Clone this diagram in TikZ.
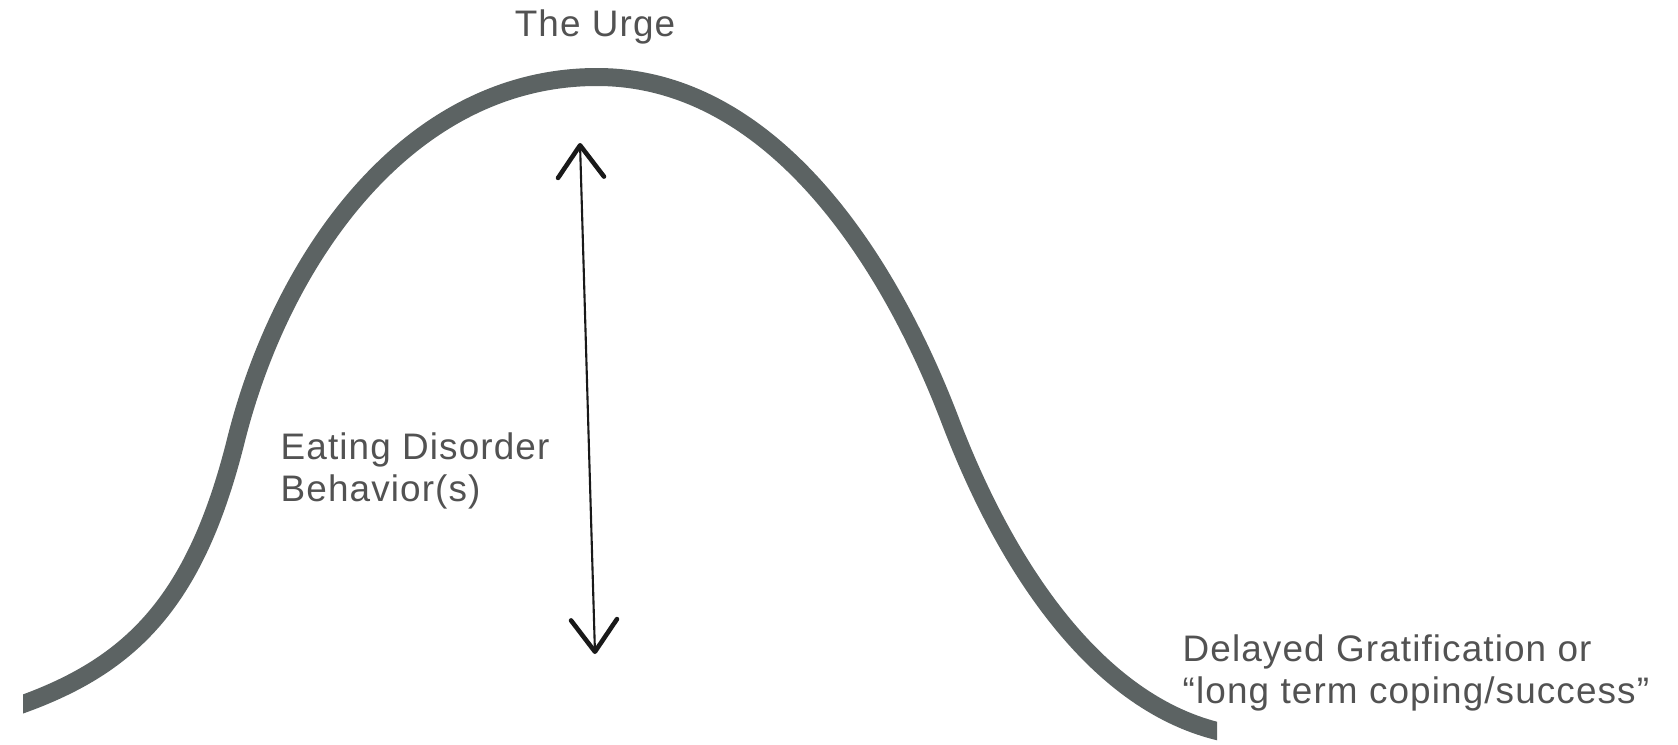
\documentclass[tikz,border=0pt]{standalone}
\usepackage{fontspec}
\setmainfont[LetterSpace=3]{Liberation Sans}
\usepackage{tikz}
\usetikzlibrary{arrows.meta}
\definecolor{urgecurve}{RGB}{92,99,99}
\definecolor{labelgray}{RGB}{82,82,82}
\definecolor{arrowink}{RGB}{25,25,25}

\begin{document}
\begin{tikzpicture}[
    curvepen/.style={line width=0.18cm, urgecurve},
    labeltext/.style={inner sep=0pt, labelgray, font=\fontsize{10.5pt}{11.9pt}\selectfont, align=left},
    updown/.style={line width=0.6pt, arrowink, <->,
      >={Straight Barb[length=3.2mm, width=4.6mm, line width=1.3pt, round]}}
  ]
  \useasboundingbox (0,0) rectangle (16.78,7.44);
  % the urge wave, cut straight at both ends
  \begin{scope}
    \clip (0.23,0) rectangle (12.17,7.44);
    \draw[curvepen] (0.00,0.32) -- (0.23,0.40)
      .. controls (1.33,0.80) and (1.96,1.44) .. (2.36,3.04)
      .. controls (2.81,4.84) and (4.07,6.67) .. (5.97,6.67)
      .. controls (7.67,6.67) and (8.85,4.94) .. (9.50,3.24)
      .. controls (10.07,1.74) and (10.97,0.43) .. (12.17,0.13)
      -- (12.60,0.02);
  \end{scope}
  % labels
  \node[labeltext, anchor=base] (urge) at (5.95,7.07) {The Urge};
  \node[labeltext, anchor=north west] (behav) at (2.80,3.12)
    {Eating Disorder\\Behavior(s)};
  \node[labeltext, anchor=north west] (delay) at (11.82,1.10)
    {Delayed Gratification or\\“long term coping/success”};
  % double arrow
  \coordinate (arrtop) at (5.80,6.01);
  \coordinate (arrbot) at (5.95,0.90);
  \draw[updown] (arrbot) -- (arrtop);
\end{tikzpicture}
\end{document}
